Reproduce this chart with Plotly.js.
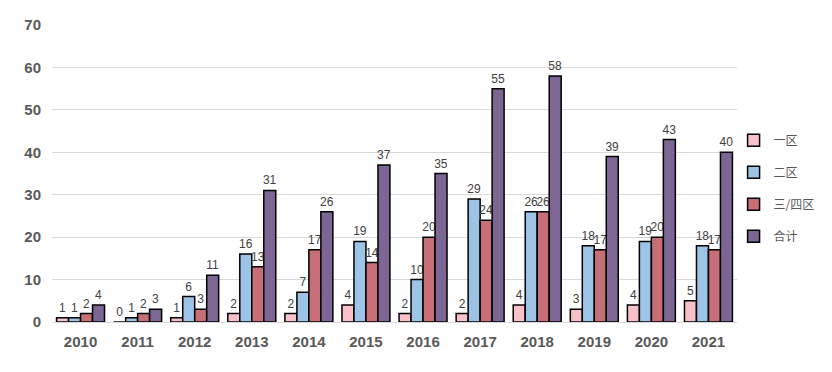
<!DOCTYPE html>
<html><head><meta charset="utf-8">
<script src="https://cdn.plot.ly/plotly-3.0.1.min.js"></script>
<style>html,body{margin:0;padding:0;background:#fff}#c{width:832px;height:372px}</style>
</head><body><div id="c"></div>
<script>
const years = ['2010','2011','2012','2013','2014','2015','2016','2017','2018','2019','2020','2021'];
const seriesNames = ['一区','二区','三/四区','合计'];
const zone1 = [1,0,1,2,2,4,2,2,4,3,4,5];
const zone2 = [1,1,6,16,7,19,10,29,26,18,19,18];
const zone34 = [2,2,3,13,17,14,20,24,26,17,20,17];
const total = [4,3,11,31,26,37,35,55,58,39,43,40];
const colors = ['#f8c1c9','#9dc3e6','#c76e76','#7b6694'];
const allSeries = [zone1, zone2, zone34, total];

const traces = allSeries.map((vals, i) => ({
  type:'bar', x: years, y: vals, name: seriesNames[i], legendgroup:'g'+i,
  marker:{color:colors[i], line:{color:'#000', width:1.5}},
  text: vals.map(String), textposition:'outside', constraintext:'none', cliponaxis:false,
  textfont:{family:'Liberation Sans, Arial, sans-serif', size:12, color:'#404040'}
}));

const layout = {
  width:832, height:372,
  margin:{l:52, r:95, t:25, b:50},
  paper_bgcolor:'#fff', plot_bgcolor:'#fff',
  barmode:'group', bargap:0.16, bargroupgap:0,
  showlegend:true,
  legend:{x:0.995, xanchor:'left', y:0.45, yanchor:'middle', tracegroupgap:13,
    font:{family:'Noto Sans CJK SC, sans-serif', size:12, color:'#595959'}},
  xaxis:{type:'category', showgrid:false, showline:true, linecolor:'#d9d9d9', ticks:'',
    ticklabelstandoff:6,
    tickfont:{family:'Liberation Sans, Arial, sans-serif', size:15, color:'#595959', weight:'bold'}},
  yaxis:{range:[0,70], dtick:10, showgrid:true, gridcolor:'#d9d9d9', zeroline:false, showline:false,
    ticklabelstandoff:10,
    tickfont:{family:'Liberation Sans, Arial, sans-serif', size:15, color:'#595959', weight:'bold'}}
};
Plotly.newPlot('c', traces, layout, {displayModeBar:false, staticPlot:true});
</script></body></html>
